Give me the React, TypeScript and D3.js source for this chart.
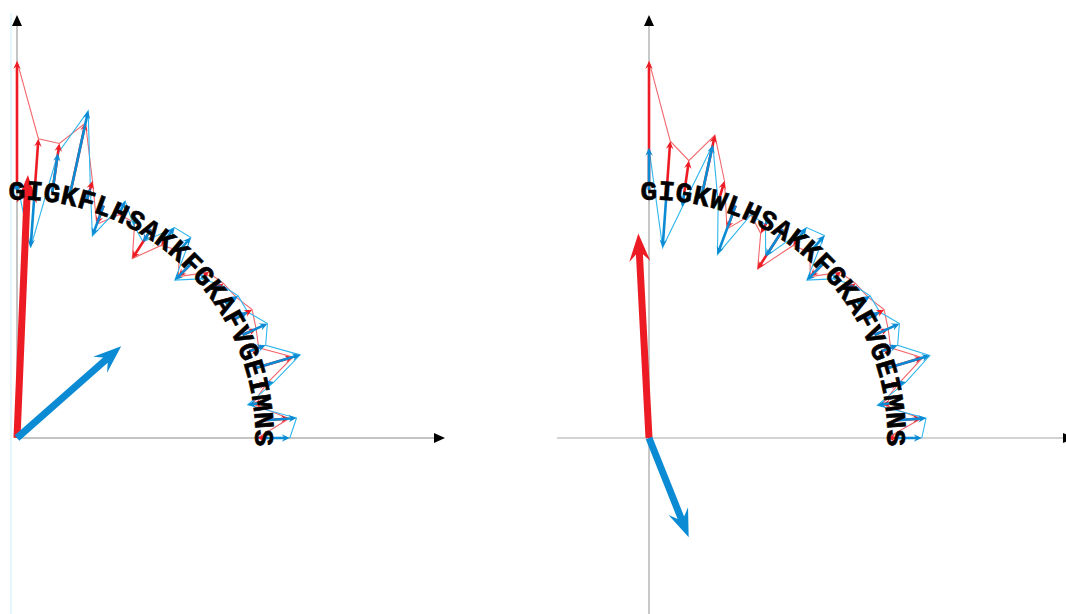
import React from "react";
import * as d3 from "d3";

// peptide sequences, one per panel
const seqLeft = "GIGKFLHSAKKFGKAFVGEIMNS".split("");
const seqRight = "GIGKWLHSAKKFGKAFVGEIMNS".split("");

// radial residue values (arc radius = 1)
const redLeft = [0.52, 0.21, 0.2, 0.3, 0.08, -0.08, -0.01, -0.01, -0.14, -0.03, 0.0, -0.08, 0.02, 0.04, 0.05, 0.08, 0.06, 0.04, 0.16, 0.03, -0.04, 0.1, -0.03];
const blueLeft = [0.03, -0.23, 0.16, 0.35, 0.05, -0.13, 0.05, -0.02, -0.06, 0.06, 0.07, -0.1, -0.02, 0.03, 0.06, 0.06, 0.11, 0.07, 0.19, 0.06, -0.06, 0.13, 0.1];
const redRight = [0.52, 0.2, 0.13, 0.25, 0.08, -0.1, -0.01, -0.06, -0.19, -0.03, -0.01, -0.08, 0.02, 0.04, 0.05, 0.08, 0.06, 0.04, 0.15, 0.03, -0.05, 0.1, -0.04];
const blueRight = [0.17, -0.23, -0.06, 0.21, -0.01, -0.21, -0.01, -0.02, -0.13, 0.06, 0.08, -0.1, -0.02, 0.03, 0.06, 0.06, 0.11, 0.07, 0.18, 0.06, -0.07, 0.12, 0.1];

// summed vectors [x, y]
const sumRedLeft = [0.044, 1.06];
const sumBlueLeft = [0.42, 0.37];
const sumRedRight = [-0.043, 0.825];
const sumBlueRight = [0.16, -0.4];

const W = 1066;
const H = 614;
const RADIUS = 248;
const RED = "#ed1c24";
const BLUE = "#0b8bd3";
const RED_LIGHT = "#f2676c";
const BLUE_LIGHT = "#2fb6ee";

function arrowPath(x1, y1, x2, y2, w, hl, hw) {
  const dx = x2 - x1;
  const dy = y2 - y1;
  const len = Math.hypot(dx, dy);
  if (len < 1) return "";
  const ux = dx / len;
  const uy = dy / len;
  const px = -uy;
  const py = ux;
  const h = Math.min(hl, len);
  const bx = x2 - ux * h;
  const by = y2 - uy * h;
  const nx = x2 - ux * h * 0.75;
  const ny = y2 - uy * h * 0.75;
  const pts = [
    [x1 + (px * w) / 2, y1 + (py * w) / 2],
    [nx + (px * w) / 2, ny + (py * w) / 2],
    [bx + (px * hw) / 2, by + (py * hw) / 2],
    [x2, y2],
    [bx - (px * hw) / 2, by - (py * hw) / 2],
    [nx - (px * w) / 2, ny - (py * w) / 2],
    [x1 - (px * w) / 2, y1 - (py * w) / 2],
  ];
  return "M" + pts.map((p) => p[0].toFixed(2) + "," + p[1].toFixed(2)).join("L") + "Z";
}

function Panel({ ox, oy, seq, red, blue, sumRed, sumBlue, full }) {
  const x = d3.scaleLinear().domain([0, 1]).range([ox, ox + RADIUS]);
  const y = d3.scaleLinear().domain([0, 1]).range([oy, oy - RADIUS]);
  const angle = d3.scaleLinear().domain([0, seq.length - 1]).range([Math.PI / 2, 0]);

  const base = (i) => [x(Math.cos(angle(i))), y(Math.sin(angle(i)))];
  const tip = (i, v) => [x((1 + v) * Math.cos(angle(i))), y((1 + v) * Math.sin(angle(i)))];

  const line = d3.line();
  const redTips = red.map((v, i) => tip(i, v));
  const blueTips = blue.map((v, i) => tip(i, v));

  const axisColor = full ? "#a8a8a8" : "#8a8a8a";
  const top = 15;
  const xEnd = full ? W + 8 : ox + 428;
  const xStart = full ? ox - 92 : ox;
  const yEnd = full ? H : oy;

  return (
    <g>
      {!full && <line x1={ox - 6} x2={ox - 6} y1={13} y2={H} stroke="#c9ecfb" strokeWidth={1} />}
      <line x1={ox} x2={ox} y1={yEnd} y2={top + 8} stroke={full ? "#c8c8c8" : axisColor} strokeWidth={full ? 2 : 1} />
      <line x1={xStart} x2={xEnd - 8} y1={oy} y2={oy} stroke={axisColor} strokeWidth={1.2} />
      <path d={`M${ox},${top}L${ox - 5},${top + 11}L${ox + 5},${top + 11}Z`} fill="#000" />
      <path d={`M${xEnd},${oy}L${xEnd - 11},${oy - 5}L${xEnd - 11},${oy + 5}Z`} fill="#000" />

      <path d={line(redTips)} fill="none" stroke={RED_LIGHT} strokeWidth={1.1} />
      <path d={line(blueTips)} fill="none" stroke={BLUE_LIGHT} strokeWidth={1.1} />

      {red.map((v, i) => {
        const [bx, by] = base(i);
        const [tx, ty] = redTips[i];
        return <path key={"r" + i} d={arrowPath(bx, by, tx, ty, 2.6, 8, 7.5)} fill={RED} />;
      })}
      {blue.map((v, i) => {
        const [bx, by] = base(i);
        const [tx, ty] = blueTips[i];
        return <path key={"b" + i} d={arrowPath(bx, by, tx, ty, 2.6, 8, 7.5)} fill={BLUE} />;
      })}

      <path d={arrowPath(x(0), y(0), x(sumRed[0]), y(sumRed[1]), 7, 28, 21)} fill={RED} />
      <path d={arrowPath(x(0), y(0), x(sumBlue[0]), y(sumBlue[1]), 7, 28, 21)} fill={BLUE} />

      {seq.map((c, i) => {
        const [bx, by] = base(i);
        const rot = 90 - (angle(i) * 180) / Math.PI;
        return (
          <text
            key={"t" + i}
            transform={`translate(${bx},${by}) rotate(${rot})`}
            textAnchor="middle"
            dy="0.34em"
            fontFamily="'Courier New', 'Liberation Mono', monospace"
            fontWeight="bold"
            fontSize={28}
            fill="#000"
            stroke="#000"
            strokeWidth={0.6}
          >
            {c}
          </text>
        );
      })}
    </g>
  );
}

export default function App() {
  return (
    <svg
      width={W}
      height={H}
      style={{ position: "absolute", left: 0, top: 0, background: "#fff" }}
    >
      <rect width={W} height={H} fill="#fff" />
      <Panel ox={17} oy={438} seq={seqLeft} red={redLeft} blue={blueLeft} sumRed={sumRedLeft} sumBlue={sumBlueLeft} full={false} />
      <Panel ox={649} oy={438} seq={seqRight} red={redRight} blue={blueRight} sumRed={sumRedRight} sumBlue={sumBlueRight} full={true} />
    </svg>
  );
}
